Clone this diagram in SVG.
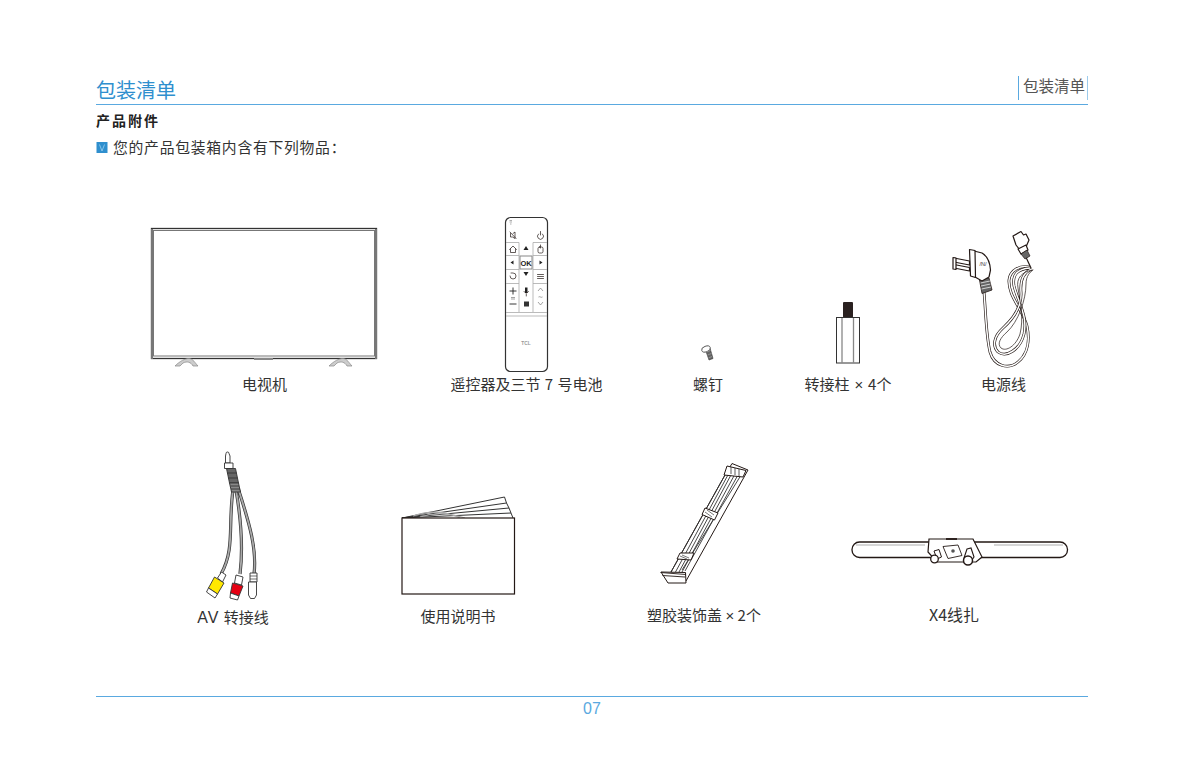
<svg xmlns="http://www.w3.org/2000/svg" width="1191" height="766" viewBox="0 0 1191 766">
<style>
text{font-family:"Noto Sans CJK SC","Noto Sans",sans-serif;fill:#333}
.lb{font-size:15px;text-anchor:middle}
.x{font-family:"Liberation Sans",sans-serif}
.o{fill:#fff;stroke:#231815;stroke-width:1.200;stroke-linejoin:round;stroke-linecap:round}
.t{fill:none;stroke:#231815;stroke-width:.7;stroke-linecap:round}
.rule{stroke:#5aa9e0;stroke-width:1}
.cb{fill:none;stroke:#231815;stroke-width:2.800}
.cw{fill:none;stroke:#fff;stroke-width:1.500}
.av{fill:none;stroke:#333;stroke-width:3.200}
.avi{fill:none;stroke:#aaa;stroke-width:1.800}
.p{stroke:#333;stroke-width:.9}
</style>
<rect width="1191" height="766" fill="#fff"/>
<g id="header">
<text x="96" y="98" style="font-size:20px;fill:#2f8fce">包装清单</text>
<line class="rule" x1="96" y1="104.500" x2="1088" y2="104.500"/>
<line x1="1018.500" y1="76" x2="1018.500" y2="100" stroke="#5aa9e0"/>
<line x1="1087.500" y1="76" x2="1087.500" y2="100" stroke="#5aa9e0" stroke-opacity=".6"/>
<text x="1023" y="92" style="font-size:15.500px;fill:#555">包装清单</text>
<text x="96" y="126" style="font-size:14px;font-weight:700;letter-spacing:2px;fill:#222">产品附件</text>
<rect x="96.500" y="142" width="11" height="11" fill="#2f8fce"/>
<path d="M99.500 144.500L102 151L104.500 144.500" fill="none" stroke="#9bd0f0" stroke-width=".8"/>
<text x="113" y="152.500" style="font-size:14.800px;letter-spacing:.75px">您的产品包装箱内含有下列物品：</text>
</g>
<g id="tv">
<rect x="151.500" y="228.500" width="225" height="130" fill="#fff" stroke="#333" stroke-width="1.300"/>
<rect x="153.500" y="230.500" width="221" height="125.500" fill="#fff" stroke="#777" stroke-width="1"/>
<rect x="151" y="229" width="2" height="130" fill="#777"/>
<rect x="375" y="229" width="2" height="130" fill="#777"/>
<rect x="254" y="358" width="19" height="2" fill="#888"/>
<path d="M175 366C180 361 185 358.500 189 358.500C193 358.500 195 363 198 366L193 366C191 362 187 361 183 363L180 366Z" fill="#ccc" stroke="#888" stroke-width=".7"/>
<path d="M329 366C334 361 339 358.500 343 358.500C347 358.500 349 363 352 366L347 366C345 362 341 361 337 363L334 366Z" fill="#ccc" stroke="#888" stroke-width=".7"/>
<text class="lb" x="264.500" y="390">电视机</text>
</g>
<g id="remote">
<rect x="505.500" y="217.500" width="42" height="154" rx="5" fill="#fff" stroke="#333" stroke-width="1.200"/>
<path d="M506 242.500H519M533 242.500H547M506 255.500H519M533 255.500H547M506 269.500H519M533 269.500H547M506 283.500H519M533 283.500H547M519 242.500V312M533 242.500V312M506 312.500H547M506 316H547" fill="none" stroke="#aaa" stroke-width=".8"/>
<rect x="520" y="256" width="12" height="13" fill="#fff" stroke="#888" stroke-width="1"/>
<text x="526" y="265.500" text-anchor="middle" style="font-size:7.500px;font-weight:700;fill:#222;font-family:'Liberation Sans',sans-serif">OK</text>
<path d="M509.500 249.500L513 246L516.500 249.500M510.500 249V252.500H515.500V249" class="t"/>
<path d="M526 246L528.500 250H523.500ZM526 276L528.500 272H523.500ZM510.500 262.500L513.500 260.500V264.500ZM542.500 262.500L539.500 260.500V264.500Z" fill="#222"/>
<rect x="538" y="247" width="5" height="6" rx="1.500" class="t"/>
<path d="M540.500 245V248M537.500 274.500H543.500M537.500 276.500H543.500M537.500 278.500H543.500" class="t"/>
<path d="M510 276A3 3 0 1 0 513 273H511" class="t"/>
<path d="M510 232L516 238.500M510.500 233.500V237H512.500L515 238.500V232L513 233.500" class="t"/>
<path d="M538.500 234A3 3 0 1 0 542.500 234M540.500 231.500V235" class="t"/>
<path d="M509.500 291H516.500M513 287.500V294.500M509.500 304H516.500" fill="none" stroke="#222" stroke-width=".9"/>
<path d="M511 297.500H515M511 299H515M538 291L540.500 288L543 291M538 302L540.500 305L543 302M538.500 297C540 296 541 298 542.500 297" fill="none" stroke="#666" stroke-width=".6"/>
<path d="M525 287.500H527.500V293H525Z" fill="#222"/>
<path d="M524 291.500A2.500 2.500 0 0 0 528.500 291.500M526.300 294V296" class="t"/>
<rect x="524" y="301.500" width="5" height="5" fill="#333"/>
<path d="M509.500 220.500H512M509.500 222H512M510 224H511.500" fill="none" stroke="#777" stroke-width=".6"/>
<text x="526" y="345" text-anchor="middle" style="font-size:4.800px;font-weight:700;fill:#999;font-family:'Liberation Sans',sans-serif">TCL</text>
<text class="lb" x="526.500" y="390" style="word-spacing:1px">遥控器及三节 7 号电池</text>
</g>
<g id="screw">
<path d="M705.500 350L710 348L713 358.500L709 360Z" fill="#666" stroke="#333" stroke-width=".6"/>
<ellipse cx="706" cy="349" rx="4.500" ry="2.800" transform="rotate(-20 706 349)" fill="#fff" stroke="#555" stroke-width=".9"/>
<path d="M706.500 352L710.500 350.500M707.500 355L711.500 353.500M708.500 358L712 356.500" fill="none" stroke="#bbb" stroke-width=".5"/>
<text class="lb" x="708" y="390">螺钉</text>
</g>
<g id="standoff">
<rect x="843" y="302" width="10" height="15.500" rx="1" fill="#2a2120"/>
<rect x="836.500" y="317.500" width="23" height="45.500" fill="#fff" stroke="#333" stroke-width="1"/>
<path d="M842 318V363M853.500 318V363" stroke="#888" stroke-width="1.300" fill="none"/>
<text class="lb" x="848" y="390" style="word-spacing:1.500px">转接柱 <tspan class="x">×</tspan> 4个</text>
</g>
<g id="power-cord">
<path class="cb" d="M984 292C986 315 986 335 990 352C994 366 1008 370 1018 362C1028 354 1030 340 1027 326C1022 308 1008 296 1009 280C1010 270 1020 265 1030 267"/>
<path class="cw" d="M984 292C986 315 986 335 990 352C994 366 1008 370 1018 362C1028 354 1030 340 1027 326C1022 308 1008 296 1009 280C1010 270 1020 265 1030 267"/>
<path class="cb" d="M1030 268C1018 269 1012 274 1014 286C1018 302 1028 316 1024 334C1020 350 1006 358 998 352C992 346 994 336 1003 328C1014 318 1022 306 1021 292C1020 280 1024 272 1032 269"/>
<path class="cw" d="M1030 268C1018 269 1012 274 1014 286C1018 302 1028 316 1024 334C1020 350 1006 358 998 352C992 346 994 336 1003 328C1014 318 1022 306 1021 292C1020 280 1024 272 1032 269"/>
<path class="t" d="M1032 270C1022 272 1016 278 1018 288C1020 302 1024 318 1020 334C1016 346 1006 352 1001 348C997 344 1000 338 1007 332C1018 322 1026 300 1026 284C1026 276 1030 272 1033 270"/>
<path d="M1031 268L1024 253" stroke="#231815" stroke-width="1.200"/>
<path d="M979.500 280L989 278L992 290L982 293.500Z" fill="#666" stroke="#231815" stroke-width=".8"/>
<path d="M980.500 283L990 281M981 286L990.500 284M981.500 289L991 287" stroke="#fff" stroke-width=".7" fill="none"/>
<path d="M974 251L982 253C987 256 990 262 990.500 270L989 277L982 281L975 277Z" class="o"/>
<path d="M969.500 249.500L975 250.500L975.500 277.500L970.500 276Z" class="o"/>
<path d="M954 258L969.500 261V265L954 262ZM954 264.500L969.500 267.500V271L954 268Z" class="o"/>
<path d="M953 257.500V269L956 269.500V258Z" class="o"/>
<text x="983" y="266" text-anchor="middle" style="font-size:5.500px;font-family:'Liberation Sans',sans-serif;fill:#333">/N/</text>
<path d="M1013 236L1021 231.500L1023.500 235L1026 234L1029 240L1026 247L1020 250L1016 245Z" class="o"/>
<path d="M1018 249L1026 245L1028 250L1021 254Z" class="o"/>
<path d="M1021 254L1027 250L1030 256L1025 259Z" fill="#666" stroke="#231815" stroke-width=".7"/>
<text class="lb" x="1003.500" y="390">电源线</text>
</g>
<g id="av-cable">
<path class="av" d="M233 490C228 525 235 550 221 574M236 490C242 525 243 550 240 574M238 488C250 525 257 550 254 574"/>
<path class="avi" d="M233 490C228 525 235 550 221 574M236 490C242 525 243 550 240 574M238 488C250 525 257 550 254 574"/>
<path d="M226 453.500A1.500 1.500 0 0 1 229 453.500L230 456V463H225.500V456Z" fill="#fff" stroke="#333" stroke-width=".9"/>
<path d="M224.500 463H233V468.500H224.500Z" fill="#fff" stroke="#333" stroke-width=".9"/>
<path d="M226.500 468.500H235.500L238.500 483H229.500Z" fill="#666" stroke="#333" stroke-width=".9"/>
<path d="M229.500 483H238.500L240.500 492H231.500Z" fill="#888" stroke="#333" stroke-width=".9"/>
<path d="M227 473H236.500M228 478H237.500M230.500 486H239M231 489H240" stroke="#333" stroke-width=".9" fill="none"/>
<path class="p" d="M217.500 578L221.500 572L226 575L222.500 582Z" fill="#fff"/>
<path class="p" d="M214.500 577L224 583L217.500 594L208.500 588Z" fill="#ffe800"/>
<path class="p" d="M208.500 588L217.500 594L215 598L206.500 592Z" fill="#fff"/>
<path class="p" d="M236 575L243 577L241.500 585L234.500 583Z" fill="#fff"/>
<path class="p" d="M232.500 583L243 586L239 596L230.500 593Z" fill="#e60012"/>
<path class="p" d="M230.500 593L239 596L237.500 600L230 598Z" fill="#fff"/>
<path class="p" d="M250 573H257V582H250Z" fill="#fff"/>
<path d="M250 576H257M250 579H257" stroke="#333" stroke-width=".7"/>
<path class="p" d="M248.500 582H256.500V595L254.500 598.500H250.500L248.500 595Z" fill="#fff"/>
<text class="lb" x="233" y="623" style="word-spacing:1px"><tspan class="x" font-size="16" letter-spacing="1">AV</tspan> 转接线</text>
</g>
<g id="manual">
<path d="M402 518L505 497L507 503L509 507L511 512L513 517L514 519Z" fill="#fff"/>
<path d="M402 518L504.500 497L506.500 503M402 518L506.500 503L509 508M402 518L509 508L511 513M402 518L511 513L513 518" fill="none" stroke="#333" stroke-width="1"/>
<path d="M413 516C430 510 445 511 460 518M420 517C435 512 450 513 465 518" fill="none" stroke="#aaa" stroke-width="1.200"/>
<rect x="402" y="518" width="112.500" height="76" fill="#fff" stroke="#231815" stroke-width="1.200"/>
<text class="lb" x="458" y="622">使用说明书</text>
</g>
<g id="plastic-cover">
<path d="M732 463.500L748 470L686 581L671 572L725 475Z" fill="#fff" stroke="#231815" stroke-width="1"/>
<path d="M725 475L671 572M729 473L675.500 572M732 473L679 572M735 474L682 572M738.500 474L685 571M743 472L682 570" fill="none" stroke="#333" stroke-width=".9"/>
<path d="M727 466L746 470.500L743 477L724 475Z" fill="#fff" stroke="#231815" stroke-width="1"/>
<path d="M731 467V474M735 468V475M739 469V476" stroke="#333" stroke-width=".8"/>
<path d="M705 508L718 513L714.500 520L702 514.500ZM680 553L694 553L691 560L677 559Z" fill="#fff" stroke="#231815" stroke-width="1"/>
<path d="M707 510L714 515M705 512L712 517M682 555L689 558M680 556L687 559" stroke="#555" stroke-width=".8"/>
<path d="M661 572L685.500 572.500L686 583L668 583Z" fill="#fff" stroke="#231815" stroke-width="1"/>
<path d="M660.500 572.500L686 574.500M662.500 575.500L685 577" fill="none" stroke="#231815" stroke-width=".9"/>
<text class="lb" x="704" y="621">塑胶装饰盖 <tspan class="x">×</tspan> 2个</text>
</g>
<g id="antenna">
<rect x="852" y="542" width="215.500" height="15.500" rx="7.500" fill="#fff" stroke="#231815" stroke-width="1.300"/>
<path d="M856 545H925M994 545H1063" fill="none" stroke="#777" stroke-width=".6"/>
<path d="M929 539H973L982 557L976 562H937L928 552Z" fill="#fff" stroke="#231815" stroke-width="1.200"/>
<path d="M946 539H957" stroke="#231815" stroke-width="1.800"/>
<path d="M943 546.500L958 545L962 555.500L948 558.500Z" fill="#fff" stroke="#231815" stroke-width=".9"/>
<circle cx="953" cy="551" r="1.800" fill="#555"/>
<path d="M934 551L939 549.500L941.500 557L937 559Z" fill="#fff" stroke="#231815" stroke-width="1"/>
<circle cx="934.500" cy="559" r="3.800" fill="#fff" stroke="#231815" stroke-width="1.300"/>
<path d="M967 549L971 548L974 557L970 563L966 563L964 558Z" fill="#fff" stroke="#231815" stroke-width="1.100"/>
<circle cx="968" cy="560.500" r="4.500" fill="#fff" stroke="#231815" stroke-width="1.500"/>
<text class="lb" x="954" y="621" style="font-size:16px">X4线扎</text>
</g>
<g id="footer">
<line class="rule" x1="96" y1="696.500" x2="1088" y2="696.500"/>
<text x="592" y="714" text-anchor="middle" style="font-size:16px;fill:#5aa9e0;font-family:'Liberation Sans',sans-serif">07</text>
</g>
</svg>
